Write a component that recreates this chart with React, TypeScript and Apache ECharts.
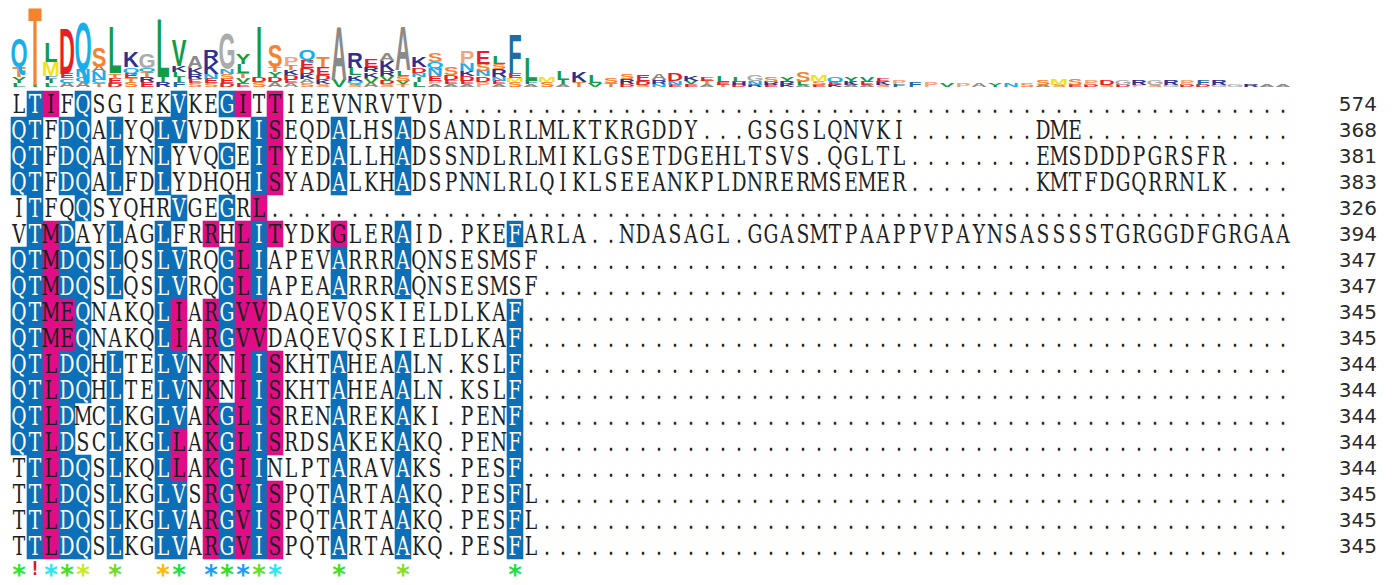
import React, { useEffect, useRef } from "react";
import * as echarts from "echarts";

// ---------- data ----------
const columnLabels: string[] = Array.from({ length: 80 }, (_, i) => String(i + 1));

const sequences: string[] = [
  "LTIFQSGIEKVKEGITTIEEVNRVTVD",
  "QTFDQALYQLVVDDKISEQDALHSADSANDLRLMLKTKRGDDY...GSGSLQNVKI........DME",
  "QTFDQALYNLYVQGEITYEDALLHADSSNDLRLMIKLGSETDGEHLTSVS.QGLTL........EMSDDDPGRSFR",
  "QTFDQALFDLYDHQHISYADALKHADSPNNLRLQIKLSEEANKPLDNRERMSEMER........KMTFDGQRRNLK",
  "ITFQQSYQHRVGEGRL",
  "VTMDAYLAGLFRRHLITYDKGLERAID.PKEFARLA..NDASAGL.GGASMTPAAPPVPAYNSASSSSTGRGGDFGRGAA",
  "QTMDQSLQSLVRQGLIAPEVARRRAQNSESMSF",
  "QTMDQSLQSLVRQGLIAPEAARRRAQNSESMSF",
  "QTMEQNAKQLIARGVVDAQEVQSKIELDLKAF",
  "QTMEQNAKQLIARGVVDAQEVQSKIELDLKAF",
  "QTLDQHLTELVNKNIISKHTAHEAALN.KSLF",
  "QTLDQHLTELVNKNIISKHTAHEAALN.KSLF",
  "QTLDMCLKGLVAKGLISRENAREKAKI.PENF",
  "QTLDSCLKGLLAKGLISRDSAKEKAKQ.PENF",
  "TTLDQSLKQLLAKGIINLPTARAVAKS.PESF",
  "TTLDQSLKGLVSRGVISPQTARTAAKQ.PESFL",
  "TTLDQSLKGLVARGVISPQTARTAAKQ.PESFL",
  "TTLDQSLKGLVARGVISPQTARTAAKQ.PESFL",
];

// b = identical (blue), m = similar (magenta), . = none
const highlights: string[] = [
  ".bm.b.....b..bm.m",
  "bb.bb.b..bb....bm...b...b",
  "bb.bb.b..b...b.bm...b...b",
  "bb.bb.b..b.....bm...b...b",
  ".b..b.....b..b.m",
  ".bmb..b..b..m.mbm...m...b......b",
  "bbmbb.b..bb..bmb....b...b",
  "bbmbb.b..bb..bmb....b...b",
  "bbmmb....bm.mbmm...............b",
  "bbmmb....bm.mbmm...............b",
  "bbmbb.b..bb.m.mbm...b...b......b",
  "bbmbb.b..bb.m.mbm...b...b......b",
  "bbmb..b..bb.mbmbm...b...b......b",
  "bbmb..b..bm.mbmbm...b...b......b",
  ".bmbb.b..bm.mbmb....b...b......b",
  ".bmbb.b..bb.mbmbm...b...b......b",
  ".bmbb.b..bb.mbmbm...b...b......b",
  ".bmbb.b..bb.mbmbm...b...b......b",
];

const seqLengths: number[] = [574, 368, 381, 383, 326, 394, 347, 347, 345, 345, 344, 344, 344, 344, 344, 345, 345, 345];

const consensusCols: number[] = [0, 1, 2, 3, 4, 6, 9, 10, 12, 13, 14, 15, 16, 20, 24, 31];
const consensusSymbols: string[] = ["*", "!", "*", "*", "*", "*", "*", "*", "*", "*", "*", "*", "*", "*", "*", "*"];
const consensusColors: string[] = [
  "#2ee62e", "#e8141c", "#22e8ee", "#44dd22", "#c8ea1e", "#6edc22", "#ffb800", "#22dd44",
  "#1e9bff", "#33dd22", "#1e9bff", "#66dd22", "#22e8ee", "#44dd22", "#88dd22", "#22dd44",
];

// sequence logo, one entry per column, letters listed top -> bottom, heights in bits
const logoStacks: string[] = [
  "Q1.51 T0.54 Y0.32 L0.22",
  "T4.12 I0.1",
  "L1.03 M0.76 F0.22 I0.2 L0.2",
  "D2.43 E0.25 C0.22 A0.25",
  "Q2.54 N0.38 C0.27 A0.27",
  "S1.03 A0.35 N0.38 C0.2 T0.2",
  "L2.49 T0.27 E0.25 D0.2",
  "K0.81 Q0.27 E0.27 T0.27 S0.25",
  "G0.76 Q0.22 T0.27 R0.27 E0.3",
  "L3.08 I0.27 R0.27",
  "V1.4 K0.32 L0.27 I0.27 F0.27",
  "A0.65 K0.32 R0.27 E0.22 S0.2",
  "R0.6 K0.6 N0.27 E0.25 S0.2",
  "G1.89 N0.27 S0.27 E0.25 D0.2",
  "Y0.54 L0.49 T0.3 V0.27 E0.2",
  "I2.7 D0.27 S0.27",
  "S1.19 T0.27 Y0.27 D0.27 A0.27",
  "P0.38 T0.27 K0.27 D0.27 E0.2 A0.2",
  "Q0.54 E0.43 D0.32 K0.27 A0.22 S0.22",
  "T0.54 E0.43 D0.3 K0.2 S0.15",
  "A2.81 V0.38",
  "R0.81 L0.43 K0.27 Q0.2 S0.15",
  "E0.38 R0.3 K0.28 V0.25 A0.25",
  "A0.38 K0.54 R0.27 V0.27 D0.2 S0.15",
  "A2.32 L0.27 S0.27 V0.2 T0.15",
  "K0.54 D0.27 N0.22 I0.27 L0.3",
  "S0.49 Q0.32 N0.38 E0.27 P0.2 A0.15",
  "S0.38 D0.27 E0.22 A0.15",
  "P0.7 N0.4 K0.27 D0.27 E0.2 A0.15",
  "E0.7 S0.38 N0.32 D0.27 P0.3",
  "L0.43 S0.27 R0.43 N0.22 E0.17 A0.15",
  "F2.05 E0.27 M0.22 S0.27",
  "L1.24 F0.2 A0.15",
  "M0.27 S0.27",
  "L0.49 I0.2 A0.15",
  "K0.54 T0.27",
  "L0.43 V0.2",
  "S0.27 T0.2",
  "S0.27 R0.27 D0.15",
  "E0.32 D0.2 S0.1",
  "A0.32 R0.2 N0.15",
  "D0.38 N0.2 E0.1",
  "K0.27 V0.2 E0.15",
  "E0.22 T0.2 A0.15",
  "L0.35 E0.15 T0.1",
  "L0.27 H0.2 D0.1",
  "G0.32 N0.2 R0.1",
  "S0.27 R0.2 E0.1",
  "Y0.27 R0.2 K0.1",
  "S0.54 L0.2 A0.1",
  "M0.32 S0.2 E0.1",
  "Q0.27 E0.2 K0.1",
  "Y0.27 K0.2 A0.1",
  "V0.27 E0.2 A0.1",
  "E0.22 K0.2 S0.1",
  "P0.22 F0.15",
  "F0.25",
  "P0.25",
  "V0.22",
  "P0.22",
  "A0.2",
  "Y0.2",
  "N0.2",
  "S0.2",
  "S0.3 A0.1",
  "M0.35 S0.1",
  "S0.35 E0.1",
  "P0.25 D0.1",
  "D0.3 S0.1",
  "G0.3 D0.1",
  "R0.25 P0.1",
  "G0.3 S0.1",
  "R0.3 G0.1",
  "P0.25 D0.1",
  "F0.3 D0.1",
  "R0.3 G0.1",
  "G0.15",
  "R0.15",
  "A0.15",
  "A0.15",
];

const residueColors: Record<string, string> = {
  A: "#8a8a8a", G: "#ababab",
  Q: "#17aeea", N: "#17aeea", C: "#17aeea",
  T: "#f5822c", S: "#f5822c", P: "#f8a27a",
  L: "#139c45", I: "#139c45", V: "#139c45", Y: "#139c45",
  M: "#f1e31a", F: "#1d6ca2", W: "#1d6ca2",
  D: "#e91d25", E: "#e91d25",
  K: "#2e3192", R: "#2e3192", H: "#2e3192",
};

const BLUE = "#0c6fb8";
const MAGENTA = "#e10d86";
const TEXT = "#1e1e1e";
const SEQ_FONT = '"DejaVu Serif", "Liberation Serif", serif';

export default function App() {
  const ref = useRef<HTMLDivElement>(null);

  useEffect(() => {
    if (!ref.current) return;
    const chart = echarts.init(ref.current, null, { renderer: "svg" });

    const rowCats = [...sequences.map((_, i) => "seq" + i), "consensus"];
    const rowLabels = [...seqLengths.map(String), ""];

    // alignment cells
    const cellData: number[][] = [];
    const cellInfo: { ch: string; hl: string }[] = [];
    sequences.forEach((s, r) => {
      const full = s.padEnd(columnLabels.length, ".");
      for (let c = 0; c < columnLabels.length; c++) {
        cellData.push([c, r]);
        cellInfo.push({ ch: full[c], hl: highlights[r][c] || "." });
      }
    });

    // consensus row
    const consData = consensusCols.map((c) => [c, sequences.length]);

    // logo letters
    const logoData: number[][] = [];
    const logoInfo: string[] = [];
    logoStacks.forEach((stack, c) => {
      const items = stack.split(" ").map((t) => ({ l: t[0], h: parseFloat(t.slice(1)) }));
      let base = 0;
      for (let i = items.length - 1; i >= 0; i--) {
        logoData.push([c, base, base + items[i].h]);
        logoInfo.push(items[i].l);
        base += items[i].h;
      }
    });

    const LOGO_FS = 22;

    const option: any = {
      animation: false,
      grid: [
        { left: 11, top: 91, width: 1280, height: 26.2 * 19 },
        { left: 11, top: 8, width: 1280, height: 79 },
      ],
      xAxis: [
        { type: "category", gridIndex: 0, data: columnLabels, show: false },
        { type: "category", gridIndex: 1, data: columnLabels, show: false },
      ],
      yAxis: [
        { type: "category", gridIndex: 0, data: rowCats, inverse: true, show: false },
        {
          type: "category",
          gridIndex: 0,
          data: rowCats,
          inverse: true,
          position: "right",
          axisLine: { show: false },
          axisTick: { show: false },
          splitLine: { show: false },
          axisLabel: {
            interval: 0,
            margin: 86,
            align: "right",
            color: "#2a2a2a",
            fontSize: 20,
            fontFamily: "DejaVu Sans",
            padding: [0, 0, 5, 0],
            formatter: (_v: string, i: number) => rowLabels[i],
          },
        },
        { type: "value", gridIndex: 1, min: 0, max: 4.27, show: false },
      ],
      series: [
        {
          type: "custom",
          xAxisIndex: 0,
          yAxisIndex: 0,
          data: cellData,
          encode: { x: 0, y: 1 },
          silent: true,
          renderItem: (params: any, api: any) => {
            const info = cellInfo[params.dataIndex];
            const pt = api.coord([api.value(0), api.value(1)]);
            const sz = api.size([1, 1]);
            const children: any[] = [];
            if (info.hl !== ".") {
              children.push({
                type: "rect",
                shape: { x: pt[0] - sz[0] / 2 - 0.3, y: pt[1] - sz[1] / 2 - 0.3, width: sz[0] + 0.6, height: sz[1] + 0.6 },
                style: { fill: info.hl === "b" ? BLUE : MAGENTA },
              });
            }
            children.push({
              type: "text",
              x: pt[0],
              y: pt[1],
              scaleX: 0.72,
              style: {
                text: info.ch,
                fill: info.hl === "b" ? "#ffffff" : TEXT,
                fontSize: 26,
                fontFamily: SEQ_FONT,
                align: "center",
                verticalAlign: "middle",
              },
            });
            return { type: "group", children };
          },
        },
        {
          type: "custom",
          xAxisIndex: 0,
          yAxisIndex: 0,
          data: consData,
          encode: { x: 0, y: 1 },
          silent: true,
          renderItem: (params: any, api: any) => {
            const pt = api.coord([api.value(0), api.value(1)]);
            const i = params.dataIndex;
            const isBang = consensusSymbols[i] === "!";
            return {
              type: "text",
              x: pt[0],
              y: isBang ? pt[1] - 4 : pt[1] + 3,
              style: {
                text: consensusSymbols[i],
                fill: consensusColors[i],
                fontSize: isBang ? 19 : 26,
                fontWeight: "bold",
                fontFamily: '"DejaVu Sans Mono", monospace',
                align: "center",
                verticalAlign: "middle",
              },
            };
          },
        },
        {
          type: "custom",
          xAxisIndex: 1,
          yAxisIndex: 2,
          data: logoData,
          encode: { x: 0, y: [1, 2] },
          silent: true,
          renderItem: (params: any, api: any) => {
            const letter = logoInfo[params.dataIndex];
            const p0 = api.coord([api.value(0), api.value(1)]);
            const p1 = api.coord([api.value(0), api.value(2)]);
            const h = p0[1] - p1[1];
            return {
              type: "text",
              x: p0[0],
              y: (p0[1] + p1[1]) / 2,
              scaleX: 1,
              scaleY: h / (0.69 * LOGO_FS),
              style: {
                text: letter,
                fill: residueColors[letter] || "#666",
                fontSize: LOGO_FS,
                fontWeight: "bold",
                fontFamily: "Liberation Sans",
                align: "center",
                verticalAlign: "middle",
              },
            };
          },
        },
      ],
    };

    chart.setOption(option);
    return () => chart.dispose();
  }, []);

  return <div ref={ref} style={{ position: "absolute", left: 0, top: 0, width: 1395, height: 585 }} />;
}
